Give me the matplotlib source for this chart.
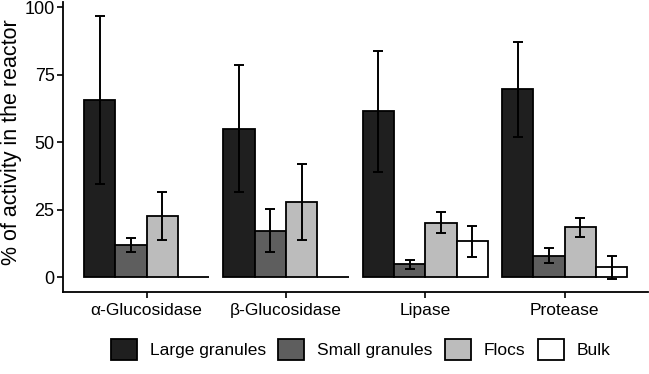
import numpy as np
import matplotlib.pyplot as plt

plt.rcParams['font.family'] = ['Liberation Sans', 'DejaVu Sans']

# data
enzymes = ['α-Glucosidase', 'β-Glucosidase', 'Lipase', 'Protease']
fractions = ['Large granules', 'Small granules', 'Flocs', 'Bulk']
large = [65.7, 55.0, 61.5, 69.6]
large_sd = [31.0, 23.5, 22.3, 17.5]
small = [12.0, 17.3, 4.9, 8.1]
small_sd = [2.5, 8.0, 1.6, 2.7]
flocs = [22.6, 28.0, 20.3, 18.5]
flocs_sd = [8.9, 14.0, 3.8, 3.4]
bulk = [0.0, 0.0, 13.4, 3.8]
bulk_sd = [np.nan, np.nan, 5.8, 4.3]

colors = ['#1f1f1f', '#5e5e5e', '#bcbcbc', '#ffffff']

fig = plt.figure(figsize=(6.49, 3.74), dpi=100)
ax = fig.add_axes([0.097, 0.219, 0.902, 0.775])

x = np.arange(1, len(enzymes) + 1)
w = 0.9 / 4
series = [(large, large_sd), (small, small_sd), (flocs, flocs_sd), (bulk, bulk_sd)]
for i, (vals, sd) in enumerate(series):
    pos = x + (i - 1.5) * w
    ax.bar(pos, vals, width=w, color=colors[i], edgecolor='black',
           linewidth=1.3, label=fractions[i], zorder=2)
    ax.errorbar(pos, vals, yerr=sd, fmt='none', ecolor='black',
                elinewidth=1.4, capsize=3.5, capthick=1.4, zorder=3)

ax.set_xlim(0.4, 4.6)
ax.set_ylim(-5.4, 101.8)
ax.set_xticks(x)
ax.set_xticklabels(enzymes)
ax.set_yticks([0, 25, 50, 75, 100])
ax.tick_params(axis='both', labelsize=12.5, colors='black', length=4, width=1.2)
ax.tick_params(axis='y', labelsize=13, pad=2)
for s in ['top', 'right']:
    ax.spines[s].set_visible(False)
for s in ['left', 'bottom']:
    ax.spines[s].set_linewidth(1.3)

# y label placed by hand so it isn't clipped
fig.text(0.017, 0.62, '% of activity in the reactor', rotation=90,
         fontsize=15.5, ha='center', va='center')

fig.legend(loc='lower center', bbox_to_anchor=(0.556, -0.005), ncol=4,
           frameon=False, fontsize=12.5, handlelength=1.5, handleheight=1.5,
           handletextpad=0.75, columnspacing=0.7)

fig.savefig('out.png', dpi=100)
